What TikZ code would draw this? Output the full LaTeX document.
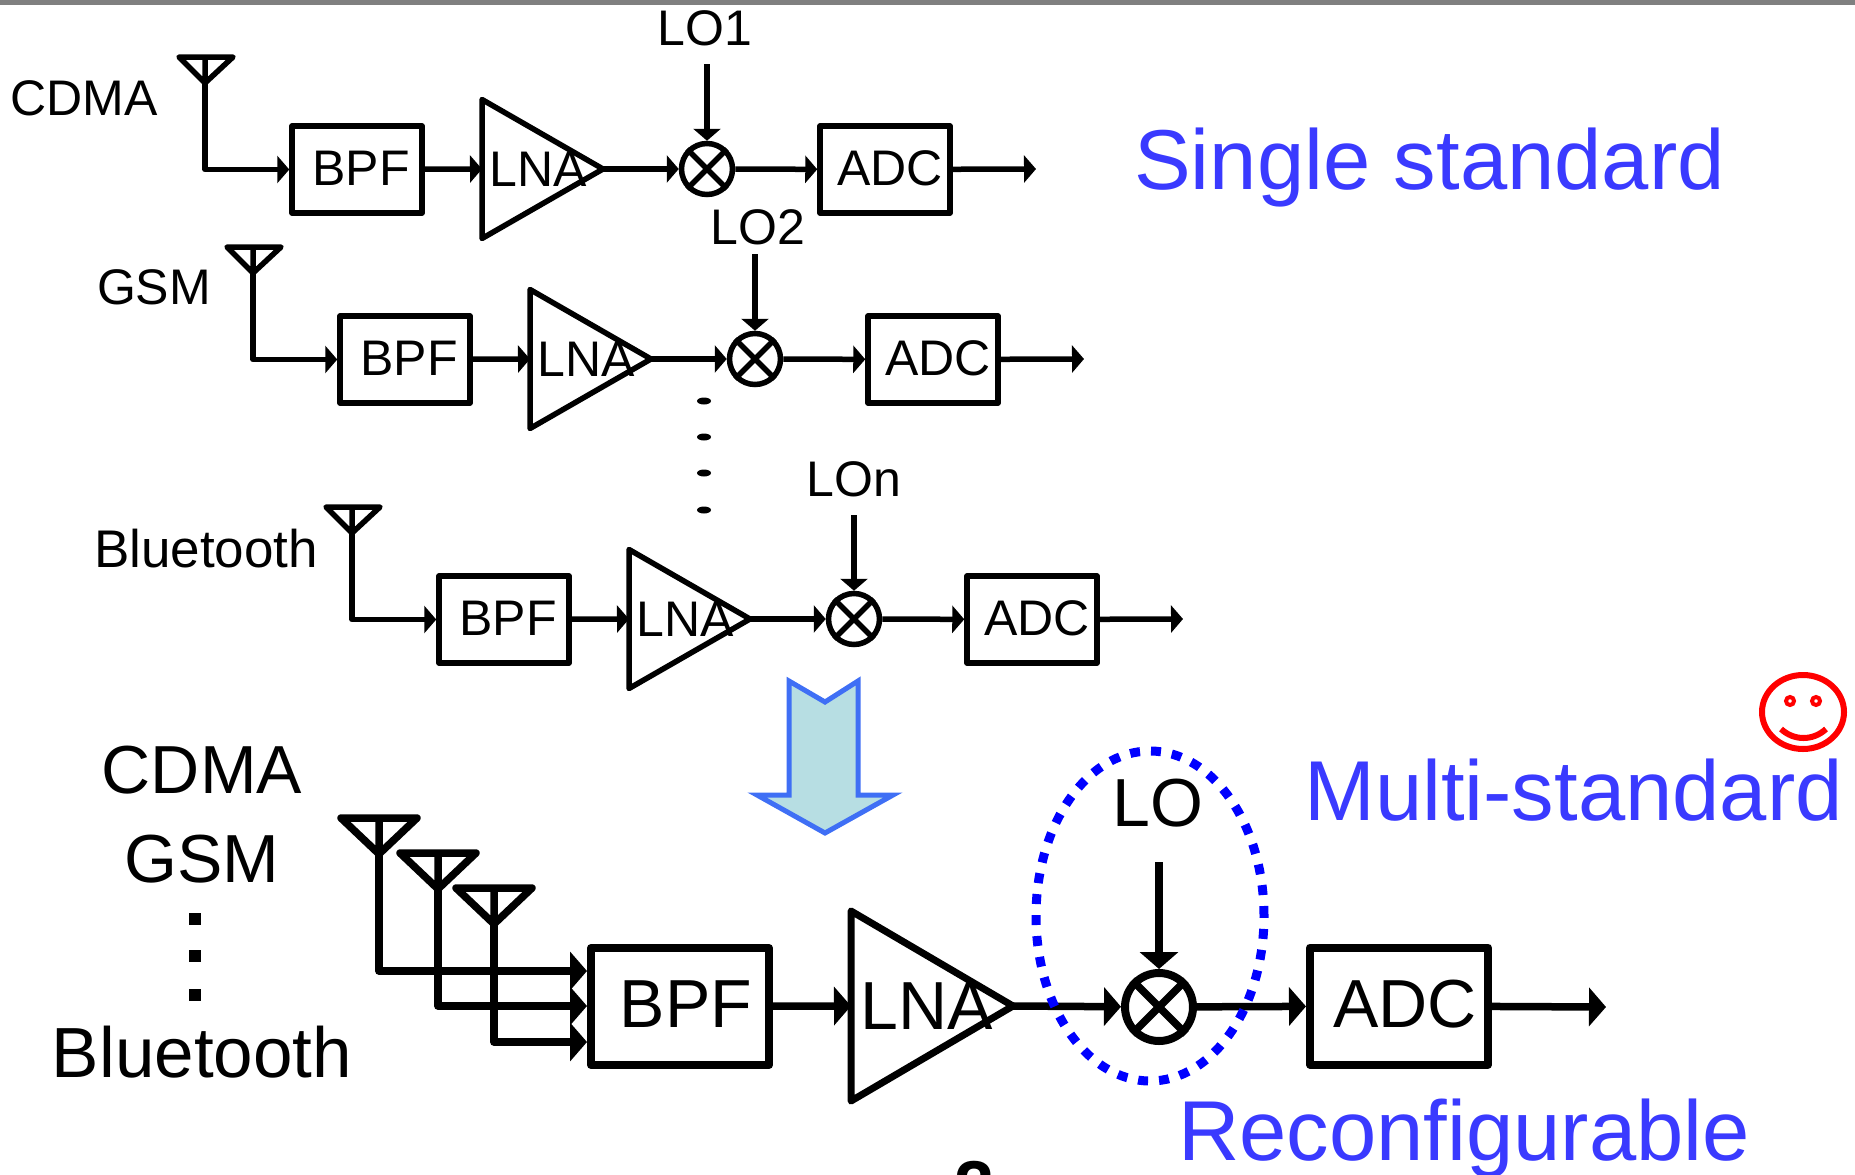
\documentclass[tikz,border=0pt]{standalone}
\usepackage{fontspec}
\setmainfont{Liberation Sans}
\usetikzlibrary{arrows.meta,shapes.geometric,positioning}
\definecolor{textblue}{HTML}{3A3AFF}
\definecolor{ringblue}{HTML}{0000FF}
\definecolor{downfill}{HTML}{B7DEE3}
\definecolor{downedge}{HTML}{3F6FF5}
\tikzset{
  small/.style={font=\fontsize{50}{58}\selectfont,inner sep=0pt},
  large/.style={font=\fontsize{68}{80}\selectfont,inner sep=0pt},
  head/.style={font=\fontsize{85}{100}\selectfont,inner sep=0pt,text=textblue,anchor=base west},
  wire/.style={line width=5.5pt,line join=round},
  sig/.style={wire,-{Triangle[length=12pt,width=27pt]}},
  box/.style={draw,line width=5.5pt,line join=round,minimum width=130pt,minimum height=87pt,inner sep=0pt},
  amp/.style={draw,line width=5.5pt,line join=round,isosceles triangle,isosceles triangle stretches,
    minimum width=139pt,minimum height=121pt,inner sep=0pt,outer sep=0pt,anchor=lower side},
  mix/.style={draw,circle,line width=5.5pt,minimum size=51pt,inner sep=0pt},
  wireb/.style={line width=7.5pt,line join=round},
  sigb/.style={wireb,-{Triangle[length=17pt,width=38pt]}},
  boxb/.style={draw,line width=8pt,line join=round,minimum width=178pt,minimum height=117pt,inner sep=0pt},
}
\begin{document}
\begin{tikzpicture}[x=1pt,y=-1pt]
\path[use as bounding box,clip] (0,0) rectangle (1855,1175);
\fill[gray] (0,0) rectangle (1855,5);
%upper three receivers: row / shift / label position / label / LO position
\foreach \r/\dx/\dy/\lx/\ly/\std/\lname/\lox/\loy/\fs in {1/0/0/84/98/CDMA/LO1/705/28/50,2/48/190/154/287/GSM/LO2/710/37/50,3/147/450/206/549/Bluetooth/LOn/707/29/53}{
\begin{scope}[shift={(\dx,\dy)}]
  \coordinate (ant\r) at (205,83);
  \coordinate (tl\r) at (179,57);
  \coordinate (tr\r) at (233,57);
  \coordinate (top\r) at (205,57);
  \node[box] (bpf\r) at (357,169.5) {};
  \node[small] (bpftext\r) at (361,168) {BPF};
  \node[amp] (lna\r) at (482,169) {};
  \node[small] (lnatext\r) at (538,169) {LNA};
  \node[mix] (mix\r) at (707,169) {};
  \node[box] (adc\r) at (885,169.5) {};
  \node[small] (adctext\r) at (890,168) {ADC};
  \coordinate (end\r) at (1036,169);
  \node[small] (lo\r) at (\lox,\loy) {\lname};
\end{scope}
\node[small,font=\fontsize{\fs}{58}\selectfont] (std\r) at (\lx,\ly) {\std};
\draw[wire] (tl\r) -- (tr\r) -- (ant\r) -- cycle (top\r) -- (ant\r);
\draw[sig] (ant\r) |- (bpf\r.west);
\draw[sig] (bpf\r) -- (lna\r.lower side);
\draw[sig] (lna\r.apex) -- (mix\r);
\draw[sig] (mix\r) -- (adc\r);
\draw[sig] (adc\r) -- (end\r);
\draw[wire] (mix\r.45) -- (mix\r.225) (mix\r.135) -- (mix\r.315);
}
%LO arrows do not have the same length
\coordinate (lofrom1) at (707,64);
\coordinate (lofrom2) at (755,254);
\coordinate (lofrom3) at (854,515);
\foreach \r in {1,2,3}{
\draw[sig] (lofrom\r) -- (mix\r);
}
\foreach \y in {401,437,473,510}{
\fill (704,\y) ellipse (7 and 3.5);
}
\node[head] (single) at (1134,189) {Single standard};
%arrow between the two parts
\draw[downedge,fill=downfill,line width=5pt,line join=miter] (789,681) -- (825,702) -- (858,681) -- (858,795) -- (893,795) -- (825,833) -- (757,795) -- (789,795) -- cycle;
%lower receiver
\node[large] (cdma) at (202,770) {CDMA};
\node[large] (gsm) at (202,859) {GSM};
\node[large,font=\fontsize{71}{80}\selectfont] (bluetooth) at (202,1052) {Bluetooth};
\foreach \y in {919,956,995}{
\fill (189,\y-6) rectangle (201,\y+6);
}
\node[boxb] (bpf) at (680,1006.5) {};
\node[large] (bpftext) at (686,1004) {BPF};
\node[amp,line width=7pt,minimum width=190pt,minimum height=162pt] (lna) at (851,1006) {};
\node[large] (lnatext) at (927,1006) {LNA};
\node[mix,line width=8pt,minimum size=68pt] (mix) at (1159,1007) {};
\draw[wireb] (mix.45) -- (mix.225) (mix.135) -- (mix.315);
\node[boxb] (adc) at (1399,1006) {};
\node[large] (adctext) at (1405,1004) {ADC};
\node[large] (lo) at (1158,803) {LO};
\coordinate (lotop) at (1159,862);
\coordinate (end) at (1606,1007);
\foreach \i/\ax/\ay/\ly in {1/379/818/971,2/438/853/1006,3/494/888/1042}{
  \coordinate (aleft\i) at (\ax-38,\ay);
  \coordinate (aright\i) at (\ax+38,\ay);
  \coordinate (atop\i) at (\ax,\ay);
  \coordinate (atip\i) at (\ax,\ay+36);
  \coordinate (ain\i) at (bpf.west |- 0,\ly);
  \draw[wireb] (aleft\i) -- (aright\i) -- (atip\i) -- cycle (atop\i) -- (atip\i);
  \draw[sigb] (atip\i) |- (ain\i);
}
\draw[sigb] (bpf) -- (lna.lower side);
\draw[sigb] (lna.apex) -- (mix);
\draw[sigb] (mix) -- (adc);
\draw[sigb] (adc) -- (end);
\draw[sigb] (lotop) -- (mix);
%dotted ring
\node[draw=ringblue,ellipse,line width=9pt,dash pattern=on 10pt off 11pt,minimum width=228pt,minimum height=330pt,inner sep=0pt] (ring) at (1150,916) {};
\node[head] (multi) at (1304,820) {Multi-standard};
\node[head] (reconf) at (1178,1160) {Reconfigurable};
%face
\draw[red,line width=6pt] (1803,712) ellipse (41 and 37);
\draw[red,line width=4pt] (1790,701) circle (4);
\draw[red,line width=4pt] (1816,701) circle (4);
\draw[red,line width=6pt] (1781,729) .. controls (1794,741) and (1813,741) .. (1826,729);
\node[large,font=\fontsize{72}{80}\bfseries\selectfont] (page) at (975,1186) {2};
\end{tikzpicture}
\end{document}
